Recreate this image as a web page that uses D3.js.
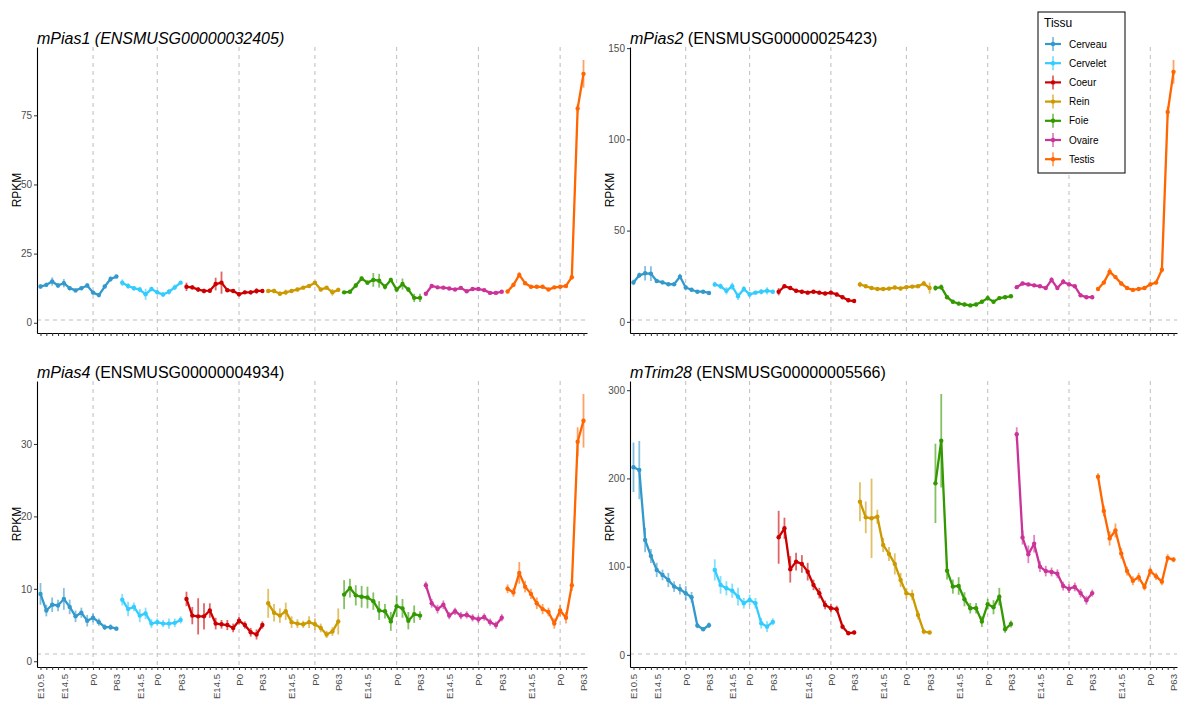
<!DOCTYPE html>
<html>
<head>
<meta charset="utf-8">
<script src="https://cdn.jsdelivr.net/npm/d3@7"></script>
<style>
  body { margin: 0; background: #fff; }
  svg { font-family: "Liberation Sans", Arial, Helvetica, sans-serif; }
</style>
</head>
<body>
<svg id="chart" width="1182" height="706"></svg>
<script>
// tissues + colours
var tissues = ["Cerveau", "Cervelet", "Coeur", "Rein", "Foie", "Ovaire", "Testis"];
var colors = ["#3399CC", "#33CCFF", "#CC0000", "#CC9900", "#339900", "#CC3399", "#FF6600"];

// stages sampled per tissue (x categories)
var stages = [
  ["E10.5","E11.5","E12.5","E13.5","E14.5","E15.5","E16.5","E17.5","E18.5","P0","P3","P14","P28","P63"],
  ["E11.5","E12.5","E13.5","E14.5","E15.5","E17.5","P0","P3","P14","P28","P63"],
  ["E9.5","E10.5","E11.5","E12.5","E13.5","E14.5","E15.5","E16.5","E18.5","P0","P3","P14","P28","P63"],
  ["E10.5","E11.5","E12.5","E13.5","E14.5","E15.5","E16.5","E17.5","P0","P3","P14","P28","P63"],
  ["E10.5","E11.5","E12.5","E13.5","E14.5","E15.5","E16.5","E17.5","E18.5","P0","P3","P14","P28","P63"],
  ["E10.5","E11.5","E12.5","E13.5","E14.5","E15.5","E16.5","E17.5","E18.5","P0","P3","P14","P28","P63"],
  ["E10.5","E11.5","E12.5","E13.5","E14.5","E15.5","E16.5","E17.5","E18.5","P0","P3","P14","P28","P63"]
];
// tick labels that are printed (first tissue also gets E10.5)
var firstLabels = ["E10.5", "E14.5", "P0", "P63"];
var otherLabels = ["E14.5", "P0", "P63"];

var genes = ["mPias1", "mPias2", "mPias4", "mTrim28"];
var geneIds = ["ENSMUSG00000032405", "ENSMUSG00000025423", "ENSMUSG00000004934", "ENSMUSG00000005566"];
var yTicks = [[0, 25, 50, 75], [0, 50, 100, 150], [0, 10, 20, 30], [0, 100, 200, 300]];

// mean RPKM per tissue, and error (sd)
var pias1 = [
  [13.1, 13.7, 14.9, 13.5, 14.3, 12.5, 11.7, 12.5, 13.5, 10.9, 10.0, 13.1, 15.8, 16.7],
  [14.5, 13.3, 12.5, 12, 10.3, 12.2, 11, 10.2, 11.2, 12.8, 14.5],
  [13, 12.8, 12, 11.5, 11.6, 14, 14.5, 11.8, 11.5, 10.3, 11, 11, 11.5, 11.5],
  [11.5, 11.5, 10.5, 11, 11.5, 12, 12.7, 13.3, 14.5, 12, 12.7, 11, 11.9],
  [11, 11.2, 13.5, 16, 14.5, 15.5, 15.2, 13, 15.5, 12, 14, 12, 9, 9],
  [10.5, 13.3, 12.8, 12.7, 12.4, 12, 12.6, 11.4, 12.2, 12.2, 11.8, 10.8, 10.8, 11.2],
  [11.3, 13.7, 17.3, 14.3, 13, 13, 13, 12, 12.8, 13, 13.3, 16.5, 77.5, 90]
];
var pias1Err = [
  [0.8, 0.8, 1.5, 0.8, 1.5, 0.7, 0.7, 0.6, 0.8, 0.7, 0.8, 0.6, 1, 0.6],
  [1.2, 1, 0.8, 1, 2, 0.8, 0.8, 0.8, 1, 1, 0.6],
  [1.5, 0.8, 0.8, 0.8, 0.8, 2.3, 4, 0.8, 0.6, 0.8, 0.6, 0.8, 1, 0.6],
  [0.6, 0.8, 0.8, 1, 0.6, 0.6, 0.6, 0.6, 0.6, 0.6, 0.6, 1.2, 0.8],
  [0.5, 0.5, 0.8, 0.8, 0.8, 2.5, 2.5, 1, 0.8, 1, 2, 0.8, 1.5, 1.5],
  [0.5, 0.5, 0.5, 0.5, 0.5, 0.5, 0.5, 0.5, 0.5, 0.5, 0.5, 0.5, 0.5, 0.5],
  [0.5, 0.8, 1, 0.6, 0.5, 0.5, 0.5, 0.5, 0.5, 0.5, 0.5, 1, 1.5, 5]
];

var pias2 = [
  [21.6, 25.5, 26.6, 26.4, 22.4, 21.6, 20.6, 20.6, 24.8, 18.8, 17.6, 16.5, 16.5, 15.8],
  [20.5, 19.5, 17, 19.5, 14, 18, 15, 16, 16.5, 17, 16.5],
  [16.5, 19.5, 18.5, 17, 16.5, 16, 16.5, 16, 15.5, 16, 15, 13.5, 11.8, 11.4],
  [20.5, 19.5, 18.5, 18, 18, 18.2, 18.8, 18.3, 19, 19.3, 19.5, 21, 18.5],
  [18.5, 19, 13.5, 11, 10, 9.5, 9, 9.5, 11, 13, 11, 13, 13.5, 14],
  [19, 21, 20.5, 20, 19.5, 18.5, 23, 18.5, 22, 20.5, 19.5, 14.5, 13.5, 13.5],
  [18, 21.5, 27.5, 24.5, 21, 18.5, 17.5, 18, 18.5, 20.5, 21.5, 28.5, 115, 137]
];
var pias2Err = [
  [1.5, 1.5, 4, 4, 1, 1, 1, 1, 1.5, 1, 1, 0.8, 0.8, 0.6],
  [1.5, 1.5, 2, 2, 2, 1.5, 1.5, 1, 1.5, 2, 1],
  [2, 1, 1, 1, 1, 1, 1, 1, 1, 1, 1, 1, 1, 0.8],
  [1.5, 1, 1, 1, 1, 1, 1, 1, 1, 1, 1, 1.5, 3],
  [1.5, 1.5, 1, 1, 1, 1, 1, 1, 1, 1.5, 1, 1, 1, 1],
  [1, 1, 1, 1, 1, 1, 1.5, 1, 1.5, 1, 1, 1, 1, 1],
  [1, 1, 2, 1, 1, 1, 1, 1, 1, 1, 1, 1.5, 3, 6.5]
];

var pias4 = [
  [9.3, 7.0, 7.8, 7.7, 8.6, 7.5, 6.2, 6.7, 5.6, 6.0, 5.4, 4.7, 4.7, 4.5],
  [8.5, 7.2, 7.5, 6.3, 6.6, 5.2, 5.4, 5.2, 5.2, 5.3, 5.7],
  [8.6, 6.3, 6.2, 6.2, 7.0, 5.2, 5.1, 5.0, 4.6, 5.6, 5.0, 4.0, 3.7, 5.0],
  [8.0, 6.7, 6.3, 6.9, 5.4, 5.2, 5.1, 5.4, 5.1, 4.6, 3.7, 4.1, 5.5],
  [9.2, 10.1, 9.1, 8.9, 8.8, 8.3, 7.0, 6.9, 5.5, 7.6, 7.3, 5.6, 6.5, 6.3],
  [10.5, 8, 7.2, 7.8, 6.3, 6.9, 6.3, 6.4, 6, 5.8, 6.1, 5.4, 5, 6],
  [10, 9.5, 12.2, 10.3, 9.3, 8, 7.2, 6.8, 5.2, 7, 6, 10.5, 30.3, 33.2]
];
var pias4Err = [
  [1.5, 0.8, 1, 0.8, 1.5, 1, 0.8, 0.7, 0.8, 0.6, 0.5, 0.4, 0.4, 0.3],
  [0.8, 1, 0.6, 0.9, 0.8, 0.6, 0.5, 0.5, 0.7, 0.6, 0.5],
  [1, 1.2, 2.5, 1.8, 1, 0.8, 0.6, 0.7, 0.6, 0.5, 0.5, 0.6, 0.7, 0.5],
  [2, 1.2, 1, 1.2, 0.8, 0.6, 0.5, 0.8, 0.8, 0.6, 0.5, 0.6, 1.8],
  [2, 1.3, 1.4, 1.5, 1.5, 1.2, 1.3, 1, 1.3, 1.5, 1.3, 1.2, 1.2, 0.6],
  [0.5, 0.6, 0.6, 0.6, 0.5, 0.5, 0.5, 0.5, 0.5, 0.5, 0.5, 0.5, 0.5, 0.5],
  [0.6, 0.6, 1.5, 0.8, 0.7, 0.8, 0.7, 0.6, 0.7, 0.8, 0.8, 0.8, 2, 3.7]
];

var trim28 = [
  [212.6, 209.5, 130.2, 112.1, 96.3, 90.6, 84.9, 77.4, 74.4, 69.9, 65.3, 33.2, 29.1, 33.6],
  [96.3, 79.3, 75.5, 72.8, 66, 58.5, 62.3, 58.5, 35.9, 32, 37.4],
  [133.3, 143.5, 97, 105.7, 103.1, 94.3, 79.3, 69.9, 56.6, 52.9, 51.8, 32, 24.6, 25.3],
  [173.6, 155.9, 154.8, 156.6, 124.6, 114.4, 103.1, 84.9, 69.9, 67.9, 45.3, 26.4, 25.3],
  [194.4, 242.7, 95.5, 77.4, 78.1, 63.1, 52.9, 52.9, 37.7, 57.4, 54, 66, 29, 35],
  [250, 133, 114, 126, 100, 95, 94, 92, 78, 75, 77, 70, 62, 70],
  [202, 163, 132, 141, 115, 95, 84, 88, 77, 95, 89, 83, 110, 108]
];
var trim28Err = [
  [28, 33, 14, 8, 8, 6, 8, 6, 6, 8, 6, 3, 2, 3],
  [12, 10, 8, 8, 10, 6, 6, 6, 6, 6, 4],
  [30, 12, 15, 10, 10, 10, 6, 6, 5, 5, 4, 3, 2, 2],
  [22, 18, 45, 8, 8, 8, 12, 8, 6, 6, 5, 3, 2],
  [45, 53, 10, 8, 10, 8, 6, 6, 6, 6, 8, 10, 4, 4],
  [8, 8, 10, 10, 6, 6, 5, 5, 5, 5, 5, 5, 5, 4],
  [4, 6, 8, 8, 6, 5, 5, 5, 4, 4, 4, 4, 4, 3]
];

var means = [pias1, pias2, pias4, trim28];
var errs = [pias1Err, pias2Err, pias4Err, trim28Err];
var threshold = 1; // horizontal dashed line (RPKM)

// panel boxes
var panels = [
  {x0: 37,  x1: 587,  y0: 47,  y1: 333, labels: false, allItalic: true},
  {x0: 630, x1: 1177, y0: 47,  y1: 333, labels: false, allItalic: false},
  {x0: 37,  x1: 587,  y0: 381, y1: 667, labels: true,  allItalic: false},
  {x0: 630, x1: 1177, y0: 381, y1: 667, labels: true,  allItalic: false}
];

var svg = d3.select("#chart");

// x categories
var cats = [];
tissues.forEach(function(t, ti) {
  stages[ti].forEach(function(s) { cats.push(t + "|" + s); });
});

genes.forEach(function(g, gi) {
  var p = panels[gi];
  var m = means[gi], e = errs[gi];

  var x = d3.scalePoint().domain(cats).range([p.x0, p.x1]).padding(0.6);

  var lo = threshold, hi = threshold;
  m.forEach(function(arr, ti) {
    arr.forEach(function(v, i) {
      lo = Math.min(lo, v - e[ti][i]);
      hi = Math.max(hi, v + e[ti][i]);
    });
  });
  var pad = (hi - lo) * 0.05;
  var y = d3.scaleLinear().domain([lo - pad, hi + pad]).range([p.y1, p.y0]);

  var gp = svg.append("g");

  // dashed guides: P0 of each tissue + threshold
  gp.selectAll(".vline")
    .data(tissues)
    .enter().append("line")
    .attr("x1", function(t) { return x(t + "|P0"); })
    .attr("x2", function(t) { return x(t + "|P0"); })
    .attr("y1", p.y0).attr("y2", p.y1)
    .attr("stroke", "#bdbdbd").attr("stroke-width", 1)
    .attr("stroke-dasharray", "4,4");

  gp.append("line")
    .attr("x1", p.x0).attr("x2", p.x1)
    .attr("y1", y(threshold)).attr("y2", y(threshold))
    .attr("stroke", "#bdbdbd").attr("stroke-width", 1)
    .attr("stroke-dasharray", "4,4");

  // series
  tissues.forEach(function(t, ti) {
    var pts = stages[ti].map(function(s, i) {
      return {c: t + "|" + s, v: m[ti][i], e: e[ti][i]};
    });
    var col = colors[ti];

    gp.append("g").selectAll("line")
      .data(pts)
      .enter().append("line")
      .attr("x1", function(d) { return x(d.c); })
      .attr("x2", function(d) { return x(d.c); })
      .attr("y1", function(d) { return y(d.v - d.e); })
      .attr("y2", function(d) { return y(d.v + d.e); })
      .attr("stroke", col).attr("stroke-width", 1.8).attr("opacity", 0.6);

    gp.append("path")
      .datum(pts)
      .attr("fill", "none").attr("stroke", col).attr("stroke-width", 2.3)
      .attr("stroke-linejoin", "round")
      .attr("d", d3.line().x(function(d) { return x(d.c); }).y(function(d) { return y(d.v); }));

    gp.append("g").selectAll("circle")
      .data(pts)
      .enter().append("circle")
      .attr("cx", function(d) { return x(d.c); })
      .attr("cy", function(d) { return y(d.v); })
      .attr("r", 2.2).attr("fill", col);
  });

  // axes
  var yAxis = gp.append("g")
    .attr("transform", "translate(" + p.x0 + ",0)")
    .call(d3.axisLeft(y).tickValues(yTicks[gi]).tickSize(3).tickSizeOuter(0).tickPadding(2));
  yAxis.select(".domain").attr("stroke", "#000").attr("stroke-width", 1.1);
  yAxis.selectAll(".tick line").attr("stroke", "#333");
  yAxis.selectAll("text").attr("fill", "#4d4d4d").style("font-size", "10px")
    .style("font-family", "'Liberation Sans', Arial, sans-serif");

  var xAxis = gp.append("g")
    .attr("transform", "translate(0," + p.y1 + ")")
    .call(d3.axisBottom(x).tickSize(3).tickSizeOuter(0).tickFormat(function(c) {
      if (!p.labels) return "";
      var parts = c.split("|");
      var shown = parts[0] === tissues[0] ? firstLabels : otherLabels;
      return shown.indexOf(parts[1]) >= 0 ? parts[1] : "";
    }));
  xAxis.select(".domain").attr("stroke", "#000").attr("stroke-width", 1.1);
  xAxis.selectAll(".tick line").attr("stroke", "#333");
  xAxis.selectAll("text")
    .attr("transform", "rotate(-90)")
    .attr("x", -7).attr("y", 0).attr("dy", "0.35em")
    .attr("text-anchor", "end")
    .attr("fill", "#4d4d4d").style("font-size", "9.6px")
    .style("font-family", "'Liberation Sans', Arial, sans-serif");

  // y title
  gp.append("text")
    .attr("transform", "translate(" + (p.x0 - 20) + "," + ((p.y0 + p.y1) / 2) + ") rotate(-90)")
    .attr("text-anchor", "middle")
    .attr("dy", "0.35em")
    .style("font-size", "12px")
    .text("RPKM");

  // panel title
  var title = gp.append("text")
    .attr("x", p.x0).attr("y", p.y0 - 3)
    .style("font-size", "16px");
  title.append("tspan").style("font-style", "italic").text(g);
  title.append("tspan")
    .style("font-style", p.allItalic ? "italic" : "normal")
    .text(" (" + geneIds[gi] + ")");
});

// legend
var leg = svg.append("g").attr("transform", "translate(1038,12)");
leg.append("rect")
  .attr("width", 87).attr("height", 161)
  .attr("fill", "#fff").attr("stroke", "#000").attr("stroke-width", 1);
leg.append("text").attr("x", 6).attr("y", 15).style("font-size", "12px").text("Tissu");

var items = leg.selectAll(".item")
  .data(tissues)
  .enter().append("g")
  .attr("transform", function(d, i) { return "translate(0," + (32 + i * 19.2) + ")"; });
items.append("line")
  .attr("x1", 7).attr("x2", 23).attr("y1", 0).attr("y2", 0)
  .attr("stroke", function(d, i) { return colors[i]; }).attr("stroke-width", 2.2);
items.append("line")
  .attr("x1", 15).attr("x2", 15).attr("y1", -7).attr("y2", 7)
  .attr("stroke", function(d, i) { return colors[i]; }).attr("stroke-width", 1.8).attr("opacity", 0.6);
items.append("circle")
  .attr("cx", 15).attr("cy", 0).attr("r", 2.2)
  .attr("fill", function(d, i) { return colors[i]; });
items.append("text")
  .attr("x", 31).attr("y", 0).attr("dy", "0.35em")
  .style("font-size", "10px")
  .text(function(d) { return d; });
</script>
</body>
</html>
